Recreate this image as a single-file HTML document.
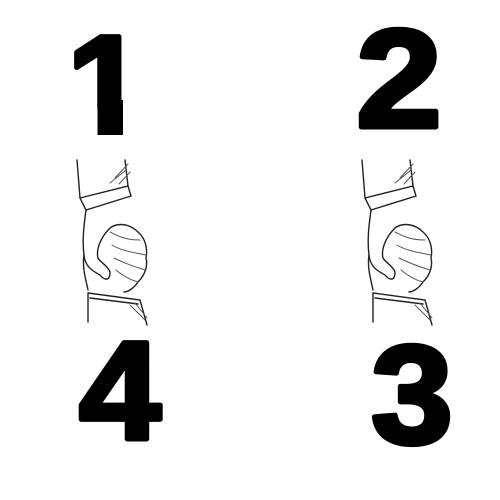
<!DOCTYPE html>
<html><head><meta charset="utf-8"><style>
html,body{margin:0;padding:0;background:#fff;width:500px;height:500px;overflow:hidden}
svg{display:block}
.num{font-family:"Liberation Sans",Arial,Helvetica,sans-serif;font-weight:700;font-size:140px;fill:#000;stroke:#000;stroke-width:5;stroke-linejoin:round}
.h path{fill:none;stroke:#555;stroke-width:1;stroke-linecap:round}
.h .d{stroke:#222;stroke-width:1.4}
</style></head><body>
<svg width="500" height="500" viewBox="0 0 500 500">
<defs>
<g id="hand" class="h">
<path class="d" d="M77,160 L80,198"/>
<path class="d" d="M80,198 L128,186 L131,196 L86,210 Z"/>
<path class="d" d="M125,160 L128,186"/>
<path d="M115,178 L128,164 M119,184 L130,172 M110,183 L126,170"/>
<path class="d" d="M86,210 C84,225 82,240 84,255 C85,268 95,272 100,275 C104,280 110,282 110,272 C108,266 100,262 98,258 C96,250 100,238 110,228 C118,222 130,224 138,232 C145,238 148,248 146,258 C148,266 145,275 138,282 C134,288 128,292 124,292"/>
<path d="M110,232 C118,236 125,240 140,240 M112,245 C120,250 130,252 146,255 M114,258 C122,262 132,266 145,270 M116,270 C122,275 130,280 138,282"/>
<path class="d" d="M84,255 C82,268 86,280 88,290"/>
<path class="d" d="M88,293 L88,322 M88,293 L140,300 L147,325 M90,298 L138,304"/>
<path d="M130,305 L145,320 M135,303 L147,318"/>
</g>
<clipPath id="c1"><rect x="0" y="0" width="500" height="108"/></clipPath>
</defs>
<g><use href="#hand"/></g>
<g><use href="#hand" transform="translate(285,0)"/></g>
<text class="num" x="106" y="133" text-anchor="middle" clip-path="url(#c1)">1</text>
<rect x="97.5" y="100" width="25.5" height="35" fill="#000"/>
<text class="num" x="399" y="127" text-anchor="middle" transform="translate(399,0) scale(1.1,1) translate(-399,0)">2</text>
<text class="num" x="120" y="439" text-anchor="middle" transform="translate(120,0) scale(1.05,1) translate(-120,0)">4</text>
<text class="num" x="412" y="443" text-anchor="middle" transform="translate(412,0) scale(1.05,1) translate(-412,0)">3</text>
</svg>
</body></html>
